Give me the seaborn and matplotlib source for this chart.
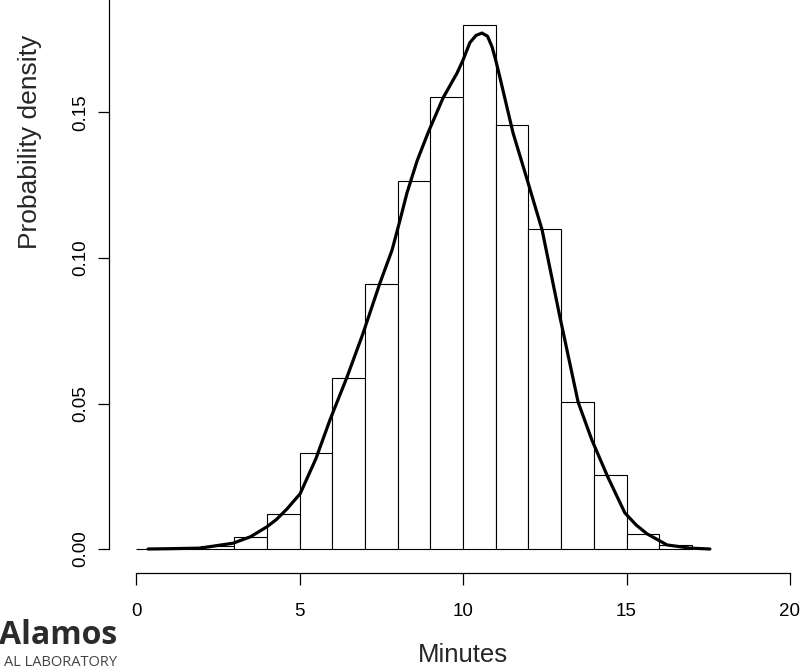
import numpy as np
import pandas as pd
import matplotlib
matplotlib.use("Agg")
import matplotlib.pyplot as plt
import seaborn as sns

# ---- data ----
bin_edges = list(range(0, 18))
bin_density = [0.0000, 0.0003, 0.0010, 0.0041, 0.0120, 0.0330, 0.0588, 0.0911,
               0.1265, 0.1553, 0.1801, 0.1457, 0.1100, 0.0505, 0.0254, 0.0052, 0.0014]

curve_x = [0.37, 1.0, 1.96, 2.97, 3.5, 4.0, 4.3, 4.62, 5.02, 5.5, 5.93, 6.45, 6.94,
           7.46, 7.83, 8.05, 8.29, 8.6, 8.93, 9.39, 9.82, 10.0, 10.21, 10.4, 10.58,
           10.75, 10.89, 11.0, 11.13, 11.53, 11.96, 12.42, 12.94, 13.52, 13.94,
           14.43, 14.95, 15.3, 15.63, 16.24, 16.94, 17.55]
curve_y = [0.0, 0.0001, 0.0003, 0.002, 0.0042, 0.0076, 0.0102, 0.0138, 0.019, 0.031,
           0.0443, 0.059, 0.074, 0.0914, 0.1027, 0.112, 0.1225, 0.1335, 0.143, 0.155,
           0.1636, 0.168, 0.174, 0.1765, 0.1773, 0.1762, 0.1725, 0.168, 0.162, 0.143,
           0.127, 0.1096, 0.081, 0.0505, 0.0375, 0.0247, 0.0124, 0.0082, 0.0052,
           0.0014, 0.0003, 0.0]

x_ticks = [0, 5, 10, 15, 20]
y_ticks = [0.00, 0.05, 0.10, 0.15]

bins_df = pd.DataFrame({
    "mid": [e + 0.5 for e in bin_edges[:-1]],
    "density": bin_density,
})
curve_df = pd.DataFrame({"x": curve_x, "y": curve_y})

sns.set_style("white")
plt.rcParams["font.family"] = ["Liberation Sans", "DejaVu Sans"]

W, H = 809, 670
fig = plt.figure(figsize=(W / 100, H / 100), dpi=100)

# axes box in pixels: left 109, right 809, top 0, bottom 560
ax = fig.add_axes([109 / W, (H - 560) / H, (W - 109) / W, 560 / H])

sns.histplot(data=bins_df, x="mid", weights="density", bins=bin_edges,
             stat="count", color="white", edgecolor="black", linewidth=0.8,
             alpha=1, ax=ax)
sns.lineplot(data=curve_df, x="x", y="y", color="black", linewidth=2.3,
             ax=ax, clip_on=False, solid_joinstyle="round", solid_capstyle="round")

px_per_unit = 32.7
ax.set_xlim((109 - 136) / px_per_unit, (809 - 136) / px_per_unit)
ax.set_ylim(-11 / 2910, 549 / 2910)

for s in ["top", "right"]:
    ax.spines[s].set_visible(False)
ax.spines["left"].set_bounds(0, 0.2)
ax.spines["bottom"].set_bounds(0, 20)
ax.spines["bottom"].set_position(("outward", 9.4))
for s in ["left", "bottom"]:
    ax.spines[s].set_color("black")
    ax.spines[s].set_linewidth(0.9)

ax.set_xticks(x_ticks)
ax.set_xticklabels([str(v) for v in x_ticks])
ax.set_yticks(y_ticks)
ax.set_yticklabels([f"{v:.2f}" for v in y_ticks], rotation=90, va="center")
ax.tick_params(axis="x", bottom=True, direction="out", length=8.6, width=0.9,
               pad=13, labelsize=13.5, colors="black")
ax.tick_params(axis="y", left=True, direction="out", length=7.9, width=0.9,
               pad=6, labelsize=13.5, colors="black")
ax.set_xlabel("")
ax.set_ylabel("")
ax.grid(False)

fig.text(30 / W, 1 - 142 / H, "Probability density", rotation=90,
         ha="center", va="center", fontsize=19)
fig.text(463 / W, 1 - 655 / H, "Minutes", ha="center", va="center", fontsize=18.5)

# cropped logo in the corner
fig.text(117 / W, 1 - 636 / H, "Alamos", ha="right", va="center",
         fontsize=23, fontweight="bold", color="#2b2b2b", family="Open Sans")
fig.text(117 / W, 1 - 662 / H, "AL LABORATORY", ha="right", va="center",
         fontsize=10.5, color="#444444", family="Open Sans")

fig.savefig("out.png", dpi=100, facecolor="white")
